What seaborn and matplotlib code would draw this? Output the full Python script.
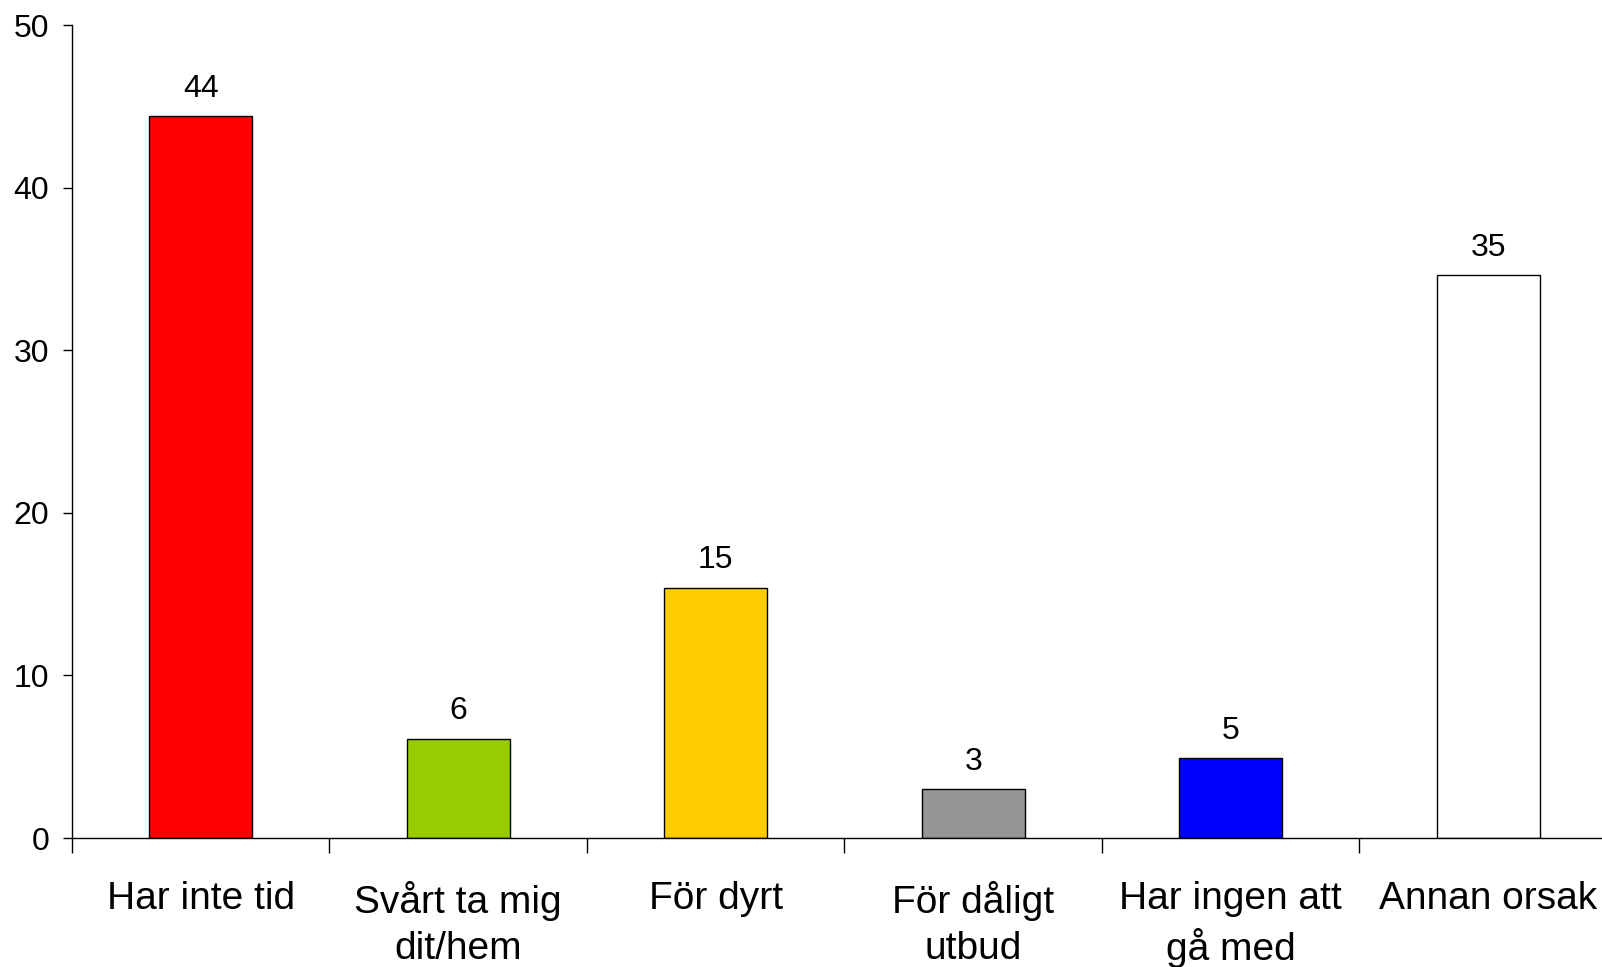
import numpy as np
import pandas as pd
import matplotlib
matplotlib.use("Agg")
import matplotlib.pyplot as plt
import seaborn as sns

sns.set_style("white")
plt.rcParams['font.family'] = ['Liberation Sans', 'DejaVu Sans']
plt.rcParams['text.color'] = 'black'
plt.rcParams['xtick.color'] = 'black'
plt.rcParams['ytick.color'] = 'black'

# data
kategorier = ["Har inte tid", "Svårt ta mig\ndit/hem", "För dyrt",
              "För dåligt\nutbud", "Har ingen att\ngå med", "Annan orsak"]
andel = [44.4, 6.1, 15.4, 3.0, 4.9, 34.6]
farger = ["#FF0000", "#99CC00", "#FFCC00", "#969696", "#0000FF", "#FFFFFF"]

df = pd.DataFrame({"kategori": kategorier, "andel": andel})

fig = plt.figure(figsize=(16.02, 9.67), dpi=100)
ax = fig.add_axes([0.0449, 0.1334, 0.9644, 0.8407])

sns.barplot(data=df, x="kategori", y="andel", hue="kategori",
            palette=farger, legend=False, width=0.4,
            edgecolor="black", linewidth=1.0, saturation=1, ax=ax)

# etiketter ovanfor staplarna
for cont in ax.containers:
    ax.bar_label(cont, fmt="%.0f", padding=9, fontsize=23, color="black")

ax.set_ylim(0, 50)
ax.set_xlim(-0.5, len(kategorier) - 0.5)
ax.set_yticks(range(0, 51, 10))
ax.set_xlabel("")
ax.set_ylabel("")

# tick-streck mellan kategorierna, etiketter i mitten
ax.set_xticks(np.arange(-0.5, len(kategorier)), minor=True)
ax.tick_params(axis="x", which="minor", bottom=True, length=11, width=1,
               color="black", direction="out")
ax.tick_params(axis="x", which="major", bottom=True, length=0, pad=31, labelsize=28)
ax.tick_params(axis="y", left=True, length=6.5, width=1, color="black",
               direction="out", labelsize=23, pad=10)
for lab in ax.get_xticklabels():
    lab.set_linespacing(1.34)

sns.despine(ax=ax, top=True, right=True)
for s in ["left", "bottom"]:
    ax.spines[s].set_color("black")
    ax.spines[s].set_linewidth(1)

fig.savefig("out.png", dpi=100)
